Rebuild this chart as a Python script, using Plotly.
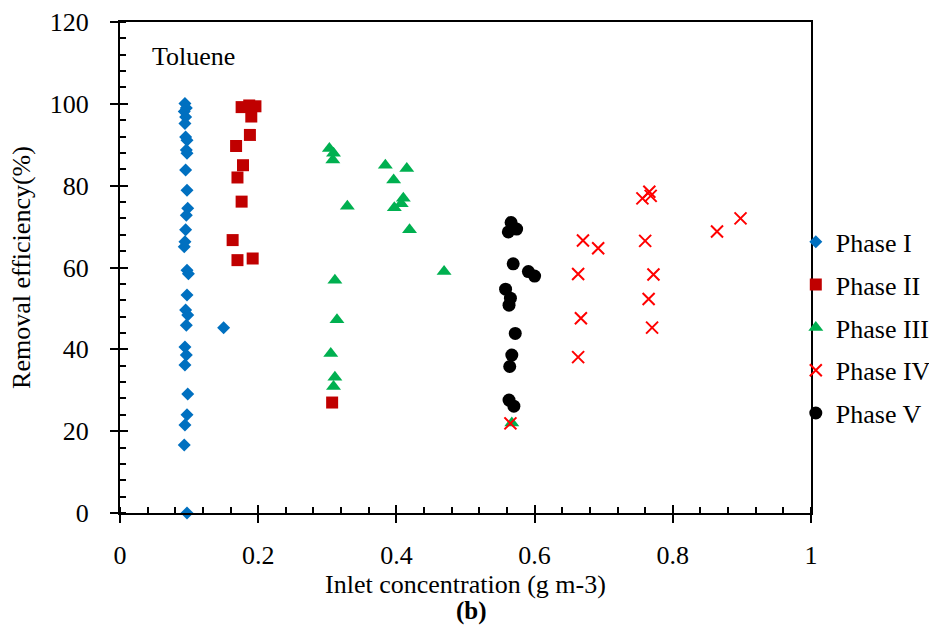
import plotly.graph_objects as go

# ---- data ----
phase1_x = [0.094, 0.096, 0.093, 0.095, 0.094, 0.095, 0.097, 0.096, 0.097, 0.095,
            0.097, 0.098, 0.096, 0.095, 0.094, 0.093, 0.097, 0.099, 0.097, 0.095,
            0.098, 0.096, 0.150, 0.094, 0.096, 0.094, 0.098, 0.097, 0.094, 0.093, 0.097]
phase1_y = [100.1, 99.0, 98.1, 96.8, 95.2, 91.9, 91.1, 88.7, 87.9, 83.8,
            78.9, 74.5, 72.8, 69.2, 66.3, 65.1, 59.3, 58.5, 53.3, 49.6,
            48.4, 45.9, 45.3, 40.6, 38.6, 36.2, 29.1, 24.0, 21.5, 16.6, 0.0]

phase2_x = [0.176, 0.187, 0.196, 0.190, 0.188, 0.168, 0.178, 0.170, 0.176, 0.163, 0.170, 0.192, 0.307]
phase2_y = [99.2, 99.6, 99.4, 96.9, 92.4, 89.7, 85.0, 82.0, 76.1, 66.7, 61.8, 62.2, 27.0]

phase3_x = [0.303, 0.309, 0.308, 0.384, 0.415, 0.396, 0.329, 0.397, 0.410, 0.407,
            0.419, 0.469, 0.311, 0.314, 0.305, 0.311, 0.309, 0.567]
phase3_y = [89.1, 87.9, 86.3, 85.0, 84.2, 81.4, 75.0, 74.6, 76.9, 75.6,
            69.2, 59.0, 56.9, 47.2, 39.0, 33.2, 30.9, 22.0]

phase4_x = [0.766, 0.756, 0.768, 0.898, 0.864, 0.670, 0.692, 0.760, 0.663, 0.772,
            0.765, 0.667, 0.770, 0.663, 0.565]
phase4_y = [78.5, 76.9, 77.5, 72.0, 68.8, 66.6, 64.7, 66.5, 58.4, 58.3,
            52.3, 47.6, 45.3, 38.1, 21.9]

phase5_x = [0.566, 0.574, 0.562, 0.569, 0.591, 0.600, 0.558, 0.565, 0.563, 0.572,
            0.567, 0.564, 0.563, 0.570]
phase5_y = [71.0, 69.4, 68.7, 60.9, 59.0, 57.9, 54.7, 52.5, 50.8, 43.9,
            38.6, 35.8, 27.6, 26.1]

series_names = ["Phase I", "Phase II", "Phase III", "Phase IV", "Phase V"]
x_ticks = [0, 0.2, 0.4, 0.6, 0.8, 1]
x_tick_text = ["0", "0.2", "0.4", "0.6", "0.8", "1"]
y_ticks = [0, 20, 40, 60, 80, 100, 120]

FONT = "Liberation Serif, Times New Roman, serif"
FS = 26

fig = go.Figure()

styles = [
    dict(symbol="diamond", size=10, color="#0070C0"),
    dict(symbol="square", size=12, color="#C00000"),
    dict(symbol="triangle-up", size=13, color="#00B050"),
    dict(symbol="x-thin-open", size=12, color="#FF0000", line=dict(color="#FF0000", width=2)),
    dict(symbol="circle", size=13, color="#000000"),
]
data = [(phase1_x, phase1_y), (phase2_x, phase2_y), (phase3_x, phase3_y),
        (phase4_x, phase4_y), (phase5_x, phase5_y)]

for name, (xs, ys), st in zip(series_names, data, styles):
    fig.add_trace(go.Scatter(x=xs, y=ys, mode="markers", name=name,
                             legendgroup=name, marker=st, cliponaxis=False))

# dummy trace so the overlay axes (inner half of the crossing major ticks) render
fig.add_trace(go.Scatter(x=[None], y=[None], xaxis="x2", yaxis="y2",
                         showlegend=False, hoverinfo="skip"))

axis_common = dict(showline=True, linecolor="black", linewidth=2, mirror=True,
                   showgrid=False, zeroline=False, ticks="outside", ticklen=8,
                   tickwidth=2, tickcolor="black",
                   tickfont=dict(family=FONT, size=FS, color="black"))

fig.update_layout(
    width=929, height=628,
    margin=dict(l=120, r=118, t=22, b=115, autoexpand=False),
    paper_bgcolor="white", plot_bgcolor="white",
    font=dict(family=FONT, size=FS, color="black"),
    xaxis=dict(range=[0, 1], tickvals=x_ticks, ticktext=x_tick_text,
               ticklabelstandoff=10,
               minor=dict(dtick=0.04, ticks="inside", ticklen=6, tickwidth=1.5, tickcolor="black"),
               title=dict(text="Inlet concentration (g m-3)", font=dict(family=FONT, size=FS),
                          standoff=2),
               **axis_common),
    yaxis=dict(range=[0, 120], tickvals=y_ticks, ticklabelstandoff=16,
               minor=dict(dtick=4, ticks="inside", ticklen=6, tickwidth=1.5, tickcolor="black"),
               title=dict(text="Removal efficiency(%)", font=dict(family=FONT, size=FS),
                          standoff=12),
               **axis_common),
    xaxis2=dict(overlaying="x", anchor="y", range=[0, 1], tickvals=x_ticks,
                ticks="inside", ticklen=8, tickwidth=2, tickcolor="black",
                showticklabels=False, showline=False, showgrid=False, zeroline=False),
    yaxis2=dict(overlaying="y", anchor="x", range=[0, 120], tickvals=y_ticks,
                ticks="inside", ticklen=8, tickwidth=2, tickcolor="black",
                showticklabels=False, showline=False, showgrid=False, zeroline=False),
    legend=dict(x=0.978, xanchor="left", y=0.377, yanchor="middle",
                font=dict(family=FONT, size=FS, color="black"),
                bgcolor="rgba(0,0,0,0)", tracegroupgap=6, itemwidth=30),
    showlegend=True,
)

fig.add_annotation(text="Toluene", x=0.106, y=0.929, xref="paper", yref="paper",
                   xanchor="center", yanchor="middle",
                   showarrow=False, font=dict(family=FONT, size=FS, color="black"))
fig.add_annotation(text="<b>(b)</b>", x=0.508, y=-0.199, xref="paper", yref="paper",
                   xanchor="center", yanchor="middle", showarrow=False,
                   font=dict(family=FONT, size=FS - 1, color="black"))

fig.write_html("out.html")
